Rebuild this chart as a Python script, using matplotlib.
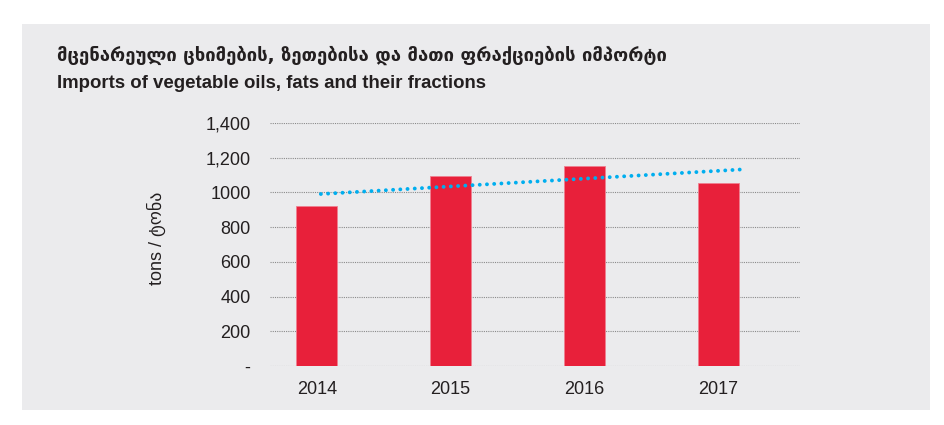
import numpy as np
import matplotlib
matplotlib.use("Agg")
import matplotlib.pyplot as plt
from matplotlib.patches import Rectangle

years = ["2014", "2015", "2016", "2017"]
values = [924, 1097, 1151, 1056]
yticks = [0, 200, 400, 600, 800, 1000, 1200, 1400]
ytick_labels = ["-", "200", "400", "600", "800", "1000", "1,200", "1,400"]
title_ka = "მცენარეული ცხიმების, ზეთებისა და მათი ფრაქციების იმპორტი"
title_en = "Imports of vegetable oils, fats and their fractions"
ylabel = "tons / ტონა"

FAM = ["Liberation Sans", "DejaVu Sans"]
plt.rcParams["font.family"] = FAM

W, H = 945, 425
fig = plt.figure(figsize=(W / 100, H / 100), dpi=100)
fig.patch.set_facecolor("white")

# grey panel
fig.patches.append(Rectangle((22 / W, 1 - 410 / H), (930 - 22) / W, (410 - 24) / H,
                             transform=fig.transFigure, facecolor="#ebebed",
                             edgecolor="none", zorder=-10))

ax = fig.add_axes([270 / W, 1 - 366 / H, (800 - 270) / W, (366 - 123) / H])
ax.set_facecolor("none")
ax.set_zorder(2)

x = np.arange(len(years))
ax.bar(x, values, width=0.306, color="#e8203a", edgecolor="#f08090",
       linewidth=0.6, zorder=3)

# linear trendline
slope, inter = np.polyfit(x, values, 1)
tx = np.array([0.03, 3.21])
ax.plot(tx, slope * tx + inter, color="#00aeef", linewidth=2.8,
        linestyle=(0, (0.01, 1.85)), dash_capstyle="round", zorder=4)

ax.set_xlim(-0.35, 3.61)
ax.set_ylim(0, 1400)
ax.set_yticks(yticks)
ax.set_yticklabels(ytick_labels)
ax.set_xticks(x)
ax.set_xticklabels(years)
ax.yaxis.grid(True, color="#8a8a8a", linestyle=(0, (1, 1)), linewidth=0.8, zorder=1)
ax.set_axisbelow(True)
for s in ax.spines.values():
    s.set_visible(False)
ax.tick_params(axis="both", length=0, labelsize=13, colors="#231f20")
ax.tick_params(axis="y", pad=14)
ax.tick_params(axis="x", pad=11)
ax.set_ylabel(ylabel, fontsize=13, color="#231f20")
ax.yaxis.set_label_coords(-0.196, 0.527)

fig.text(57 / W, 1 - 55 / H, title_ka, fontsize=13.3, fontweight="bold",
         color="#231f20", va="center", ha="left", family=["DejaVu Sans"])
fig.text(57 / W, 1 - 83 / H, title_en, fontsize=13.4, fontweight="bold",
         color="#231f20", va="center", ha="left")

fig.savefig("out.png", dpi=100)
